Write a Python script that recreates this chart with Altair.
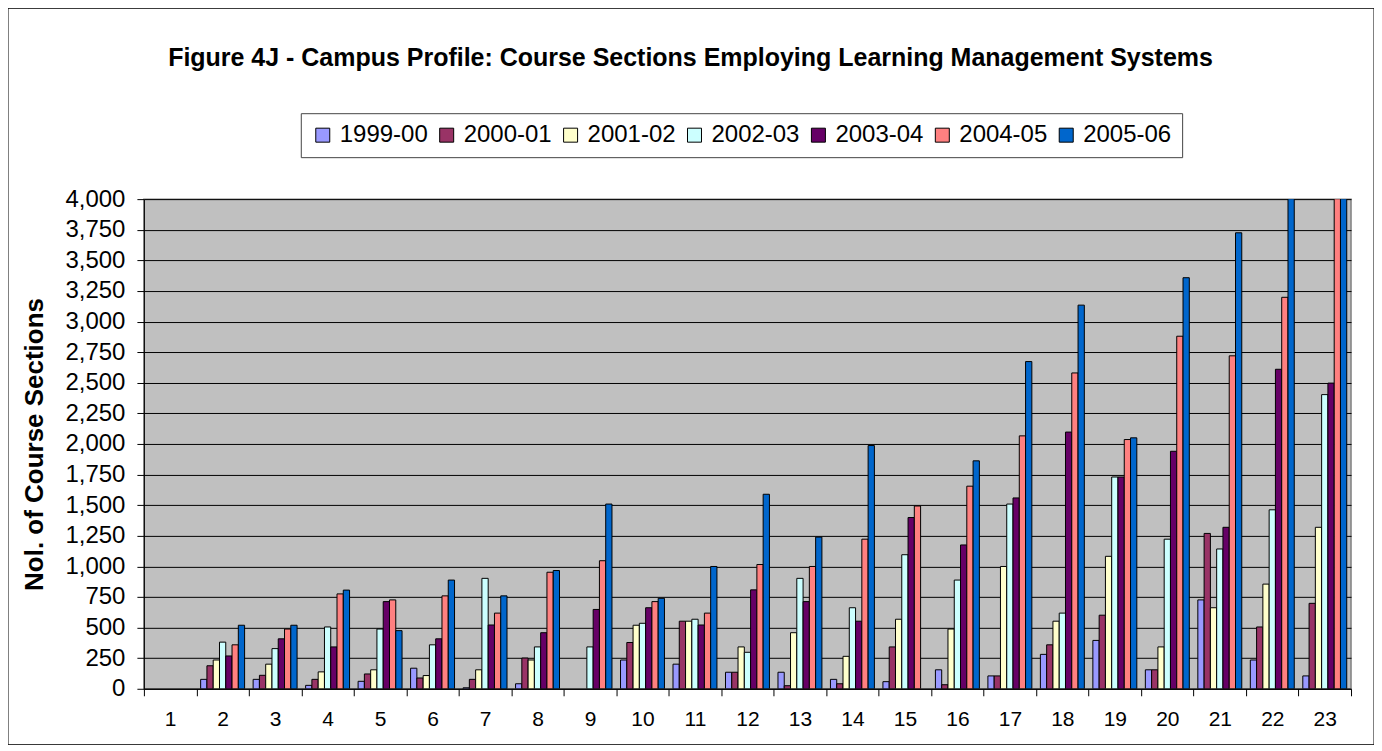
import altair as alt
import pandas as pd

categories = list(range(1, 24))
series_names = ["1999-00", "2000-01", "2001-02", "2002-03", "2003-04", "2004-05", "2005-06"]
series_colors = ["#9999FF", "#993366", "#FFFFCC", "#CCFFFF", "#660066", "#FF8080", "#0066CC"]

s1999_00 = [0, 77, 77, 28, 61, 168, 8, 41, 0, 235, 201, 135, 135, 77, 58, 155, 105, 281, 395, 155, 726, 235, 105]
s2000_01 = [0, 188, 110, 77, 121, 88, 77, 251, 0, 378, 552, 135, 25, 41, 342, 33, 105, 359, 601, 155, 1269, 505, 698]
s2001_02 = [0, 235, 201, 138, 155, 108, 155, 235, 0, 519, 552, 342, 458, 265, 568, 488, 999, 552, 1082, 342, 662, 855, 1319]
s2002_03 = [0, 381, 328, 505, 488, 359, 902, 342, 342, 535, 568, 298, 902, 662, 1095, 888, 1509, 618, 1730, 1222, 1142, 1462, 2403]
s2003_04 = [0, 268, 408, 342, 712, 408, 521, 458, 648, 662, 521, 808, 712, 552, 1399, 1175, 1559, 2097, 1730, 1940, 1319, 2610, 2497]
s2004_05 = [0, 359, 488, 775, 726, 759, 618, 952, 1046, 712, 618, 1015, 999, 1222, 1493, 1655, 2066, 2580, 2036, 2880, 2720, 3198, 4500]
s2005_06 = [0, 519, 519, 806, 475, 888, 759, 966, 1509, 739, 999, 1589, 1239, 1987, 0, 1862, 2673, 3134, 2050, 3358, 3725, 4400, 4800]

y_ticks = list(range(0, 4001, 250))
title_text = "Figure 4J - Campus Profile: Course Sections Employing Learning Management Systems"
y_title = "Nol. of Course Sections"

series_values = [s1999_00, s2000_01, s2001_02, s2002_03, s2003_04, s2004_05, s2005_06]
rows = []
for name, vals in zip(series_names, series_values):
    for c, v in zip(categories, vals):
        rows.append({"cat": c, "series": name, "value": v})
df = pd.DataFrame(rows)

FONT = "Liberation Sans, Arial, sans-serif"
W, H = 1208, 490

bars = alt.Chart(df).transform_filter("datum.value > 0").mark_bar(
    clip=True, stroke="black", strokeWidth=1
).encode(
    x=alt.X("cat:O", sort=categories,
            scale=alt.Scale(domain=categories, paddingInner=0, paddingOuter=0),
            axis=alt.Axis(title=None, labelAngle=0, tickBand="extent", grid=False,
                          labelFontSize=21, labelFont=FONT, labelColor="black",
                          tickColor="black", tickSize=7, domainColor="black",
                          labelPadding=13)),
    xOffset=alt.XOffset("series:N", sort=series_names,
                        scale=alt.Scale(domain=series_names, paddingInner=0, paddingOuter=0.68)),
    y=alt.Y("value:Q", scale=alt.Scale(domain=[0, 4000], nice=False),
            axis=alt.Axis(values=y_ticks, format=",d", title=y_title,
                          titleFont=FONT, titleFontSize=26, titleFontWeight="bold",
                          titleColor="black", titleAngle=270, titleX=-109, titleY=245,
                          titleAlign="center", titleBaseline="middle",
                          labelFontSize=24, labelFont=FONT, labelColor="black",
                          labelPadding=12, tickSize=7, tickColor="black",
                          domainColor="black", gridColor="black", gridWidth=1)),
    color=alt.Color("series:N", sort=series_names,
                    scale=alt.Scale(domain=series_names, range=series_colors),
                    legend=alt.Legend(title=None, orient="none", direction="horizontal",
                                      columns=7, legendX=157, legendY=-86,
                                      padding=10, strokeColor="#444", fillColor="white",
                                      symbolType="square", symbolSize=196,
                                      symbolStrokeColor="black", symbolStrokeWidth=1,
                                      labelFontSize=24, labelFont=FONT, labelColor="black",
                                      labelOffset=5, columnPadding=6)),
)

border = alt.Chart(pd.DataFrame({"k": [0]})).mark_rect(
    fillOpacity=0, stroke="black", strokeWidth=1
).encode(x=alt.value(-136), x2=alt.value(1231), y=alt.value(-191), y2=alt.value(546))

title = alt.Chart(pd.DataFrame({"t": [title_text]})).mark_text(
    font=FONT, fontSize=25, fontWeight="bold", color="black",
    align="center", baseline="middle"
).encode(text="t:N", x=alt.value(547), y=alt.value(-141))

chart = alt.layer(border, bars, title).properties(
    width=W, height=H,
    autosize=alt.AutoSizeParams(type="none"),
    padding={"left": 136, "top": 191, "right": 23, "bottom": 56},
    background="white",
).configure_view(fill="#C0C0C0", stroke="#808080", strokeWidth=1.5)

chart.save("out.html", embed_options={"renderer": "svg", "actions": False})
